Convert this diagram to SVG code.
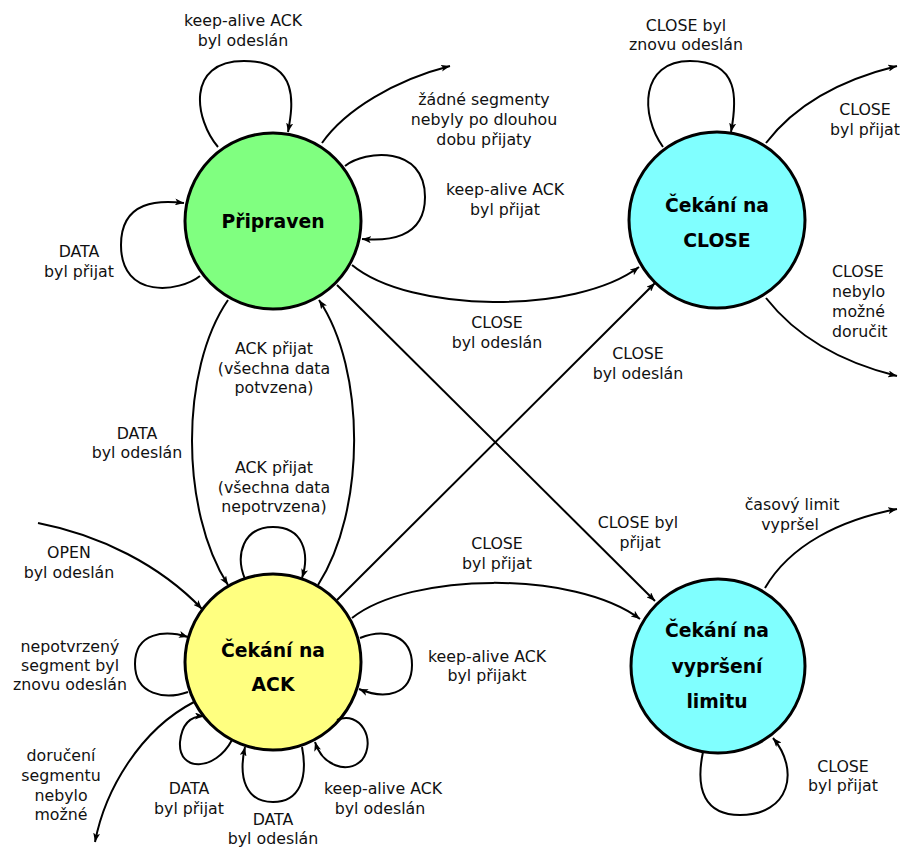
<svg xmlns="http://www.w3.org/2000/svg" width="900" height="847" viewBox="0 0 900 847">
  <style>
    .edge { fill: none; stroke: #000; stroke-width: 2; marker-end: url(#arr); }
    .state { stroke: #000; stroke-width: 3; }
    .lbl { font-family: "DejaVu Sans", "Noto Sans", sans-serif; font-size: 15.8px; fill: #111; text-anchor: middle; }
    .lbl-l { text-anchor: start; }
    .name { font-family: "DejaVu Sans", "Noto Sans", sans-serif; font-size: 18.8px; font-weight: bold; fill: #000; text-anchor: middle; }
  </style>
  <defs>
    <marker id="arr" viewBox="0 0 9 7" refX="9" refY="3.5" markerWidth="9" markerHeight="7" markerUnits="userSpaceOnUse" orient="auto">
      <path d="M0,0 L9,3.5 L0,7 L2.2,3.5 z" fill="#000"/>
    </marker>
  </defs>
  <rect width="900" height="847" fill="#fff"/>

  <!-- states -->
  <g id="pripraven">
    <circle class="state" cx="273" cy="221" r="88" fill="#80ff80"/>
    <text class="name" x="273" y="228">Připraven</text>
  </g>
  <g id="cekani-close">
    <circle class="state" cx="717" cy="220" r="88" fill="#80ffff"/>
    <text class="name" x="717" y="212">Čekání na</text>
    <text class="name" x="717" y="247">CLOSE</text>
  </g>
  <g id="cekani-ack">
    <circle class="state" cx="273" cy="662" r="88" fill="#ffff80"/>
    <text class="name" x="273" y="657">Čekání na</text>
    <text class="name" x="273" y="691">ACK</text>
  </g>
  <g id="cekani-limit">
    <circle class="state" cx="718" cy="666" r="87" fill="#80ffff"/>
    <text class="name" x="717" y="637">Čekání na</text>
    <text class="name" x="717" y="673">vypršení</text>
    <text class="name" x="717" y="708">limitu</text>
  </g>

  <!-- transitions -->
  <g id="connectors">
    <!-- Připraven -->
    <path class="edge" d="M218,147 C195,120 185,61 244,61 C300,61 293,105 288,132"/>
    <path class="edge" d="M345,166 C365,150 425,145 425,197 C425,240 385,241 362,239"/>
    <path class="edge" d="M200,276 C180,292 121,300 121,245 C121,200 160,200 184,203"/>
    <path class="edge" d="M322,143 C345,110 395,80 450,66"/>
    <path class="edge" d="M352,265 C410,313 575,315 639,267"/>
    <path class="edge" d="M337,285 L655,601"/>
    <path class="edge" d="M228,300 C180,370 180,510 228,585"/>
    <!-- Čekání na ACK -->
    <path class="edge" d="M318,585 C366,510 366,370 319,300"/>
    <path class="edge" d="M245,579 C235,555 243,527 273,527 C303,527 310,553 302,578"/>
    <path class="edge" d="M38,523 C100,535 160,565 202,609"/>
    <path class="edge" d="M188,692 C165,700 135,695 135,664 C135,632 165,630 188,637"/>
    <path class="edge" d="M194,702 C140,730 105,790 95,842"/>
    <path class="edge" d="M232,740 C215,772 178,772 180,742 C182,722 192,716 204,716"/>
    <path class="edge" d="M302,747 C308,778 300,802 273,802 C246,802 238,778 245,747"/>
    <path class="edge" d="M337,720 C360,710 377,740 362,760 C347,775 322,765 315,742"/>
    <path class="edge" d="M360,638 C385,628 412,635 412,665 C412,695 385,700 359,689"/>
    <path class="edge" d="M352,618 C410,572 575,570 640,619"/>
    <path class="edge" d="M337,600 L655,283"/>
    <!-- Čekání na vypršení limitu -->
    <path class="edge" d="M765,588 C790,545 840,520 897,509"/>
    <path class="edge" d="M703,752 C695,790 705,815 740,815 C790,815 800,770 773,738"/>
    <!-- Čekání na CLOSE -->
    <path class="edge" d="M663,147 C640,115 640,61 690,61 C740,61 737,100 731,132"/>
    <path class="edge" d="M766,143 C795,105 840,80 897,66"/>
    <path class="edge" d="M766,298 C795,335 840,362 897,376"/>
  </g>

  <!-- transition labels -->
  <g id="labels">
    <text class="lbl" x="243" y="26">keep-alive ACK<tspan x="243" y="45.5">byl odeslán</tspan></text>
    <text class="lbl" x="484" y="105">žádné segmenty<tspan x="484" y="125">nebyly po dlouhou</tspan><tspan x="484" y="145">dobu přijaty</tspan></text>
    <text class="lbl" x="505" y="195">keep-alive ACK<tspan x="505" y="215">byl přijat</tspan></text>
    <text class="lbl" x="79" y="257">DATA<tspan x="79" y="277">byl přijat</tspan></text>
    <text class="lbl" x="497" y="328">CLOSE<tspan x="497" y="348">byl odeslán</tspan></text>
    <text class="lbl" x="638" y="359">CLOSE<tspan x="638" y="379">byl odeslán</tspan></text>
    <text class="lbl" x="274" y="354">ACK přijat<tspan x="274" y="373.5">(všechna data</tspan><tspan x="274" y="393">potvzena)</tspan></text>
    <text class="lbl" x="137" y="439">DATA<tspan x="137" y="458">byl odeslán</tspan></text>
    <text class="lbl" x="274" y="473">ACK přijat<tspan x="274" y="493">(všechna data</tspan><tspan x="274" y="512">nepotrvzena)</tspan></text>
    <text class="lbl" x="638" y="528">CLOSE byl<tspan x="640" y="548">přijat</tspan></text>
    <text class="lbl" x="497" y="549">CLOSE<tspan x="497" y="569">byl přijat</tspan></text>
    <text class="lbl" x="69" y="558">OPEN<tspan x="69" y="578">byl odeslán</tspan></text>
    <text class="lbl" x="70" y="652">nepotvrzený<tspan x="70" y="671">segment byl</tspan><tspan x="70" y="690">znovu odeslán</tspan></text>
    <text class="lbl" x="487" y="662">keep-alive ACK<tspan x="487" y="681">byl přijakt</tspan></text>
    <text class="lbl" x="61" y="761">doručení<tspan x="61" y="781">segmentu</tspan><tspan x="61" y="801">nebylo</tspan><tspan x="61" y="820">možné</tspan></text>
    <text class="lbl" x="189" y="794">DATA<tspan x="189" y="814">byl přijat</tspan></text>
    <text class="lbl" x="273" y="825">DATA<tspan x="273" y="844">byl odeslán</tspan></text>
    <text class="lbl" x="383" y="794">keep-alive ACK<tspan x="380" y="814">byl odeslán</tspan></text>
    <text class="lbl" x="792" y="510">časový limit<tspan x="790" y="530">vypršel</tspan></text>
    <text class="lbl" x="843" y="772">CLOSE<tspan x="843" y="791">byl přijat</tspan></text>
    <text class="lbl" x="686" y="30.5">CLOSE byl<tspan x="686" y="50">znovu odeslán</tspan></text>
    <text class="lbl" x="865" y="115">CLOSE<tspan x="865" y="135">byl přijat</tspan></text>
    <text class="lbl lbl-l" x="832" y="277">CLOSE<tspan x="832" y="297">nebylo</tspan><tspan x="832" y="317">možné</tspan><tspan x="832" y="337">doručit</tspan></text>
  </g>
</svg>
